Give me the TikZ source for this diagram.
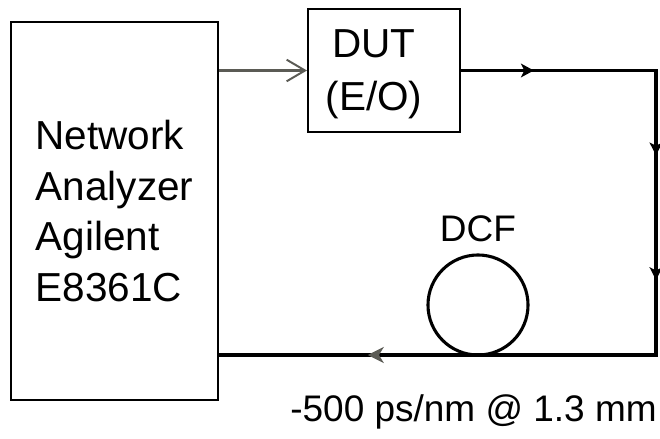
\documentclass[tikz,border=0pt]{standalone}
\usepackage{fontspec}
\setmainfont{Liberation Sans}
\usepackage{tikz}
\usetikzlibrary{arrows.meta, positioning, calc, decorations.markings}
\definecolor{feedgray}{HTML}{5B5B55}

\begin{document}
\begin{tikzpicture}[
    x=0.025cm, y=-0.025cm,
    box/.style={draw, line width=1.4pt, inner sep=0pt, align=left, font=\fontsize{28.8}{36.1}\selectfont},
    lbl/.style={inner sep=0pt, font=\fontsize{26.3}{30}\selectfont},
    feed/.style={-{Straight Barb[length=4.6mm, width=5.4mm, line width=1.4pt]}, line width=1.5pt, feedgray},
    fibre/.style={line width=2.3pt, postaction={decorate}, decoration={markings,
        mark=at position 0.0795 with {\arrow{Stealth[length=3.2mm, width=3.4mm, inset=0.8mm]}},
        mark=at position 0.3054 with {\arrow{Stealth[length=3.2mm, width=3.2mm, inset=0.8mm]}},
        mark=at position 0.4415 with {\arrow{Stealth[length=3.2mm, width=3.2mm, inset=0.8mm]}},
        mark=at position 0.8378 with {\arrow[feedgray]{Stealth[length=4mm, width=4mm, inset=1.2mm]}}}}
]
    \useasboundingbox (0,0) rectangle (660,439);

    % Instruments
    \node[box, minimum width=5.18cm, minimum height=9.45cm] (analyzer) at (114.5,211) {Network\\Analyzer\\Agilent\\E8361C};
    \node[box, minimum width=3.8cm, minimum height=3.08cm] (dut) at (384,70.5) {};
    \node[inner sep=0pt, align=center, font=\fontsize{28.8}{37.7}\selectfont] (duttext) at ($(dut.center)+(-10,4)$) {DUT\\(E/O)};

    % Fibre spool
    \coordinate (ne) at (656,70.5);
    \coordinate (se) at (656,355);
    \node[draw, circle, line width=2.2pt, minimum size=2.5cm, inner sep=0pt] (dcf) at (478,305) {};
    \node[lbl, above=0.275cm of dcf] (dcflabel) {DCF};
    \node[lbl, anchor=base east] (dispersion) at (657,422) {-500 ps/nm @ 1.3 mm};

    % Links
    \draw[feed] (dut.west -| analyzer.east) -- (dut.west);
    \draw[fibre] (dut.east) -- (ne) -- (se) -- (se -| analyzer.east);
\end{tikzpicture}
\end{document}
